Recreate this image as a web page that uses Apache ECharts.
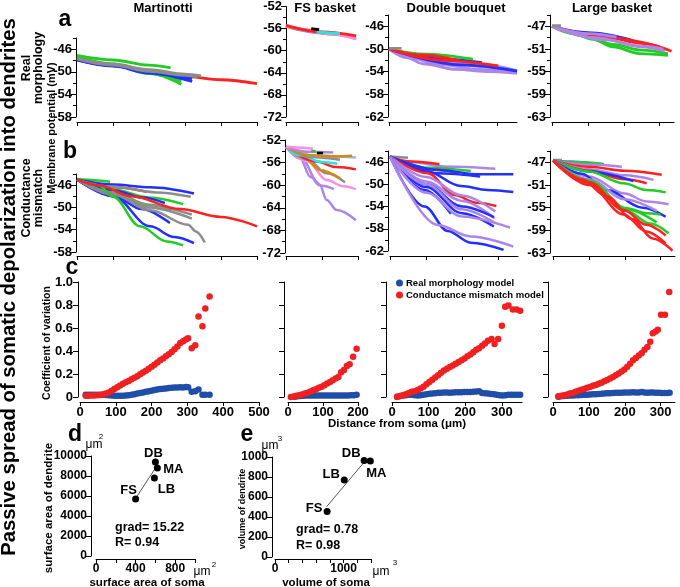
<!DOCTYPE html>
<html><head><meta charset="utf-8">
<script src="https://cdn.jsdelivr.net/npm/echarts@6/dist/echarts.min.js"></script>
<style>html,body{margin:0;padding:0;background:#fff}#chart{width:680px;height:587px}</style>
</head><body><div id="chart"></div>
<script>
// ---------------- DATA ----------------
const panelTitles = ['Martinotti', 'FS basket', 'Double bouquet', 'Large basket'];

// x ticks (distance from soma, um)
const xTicksM = [0, 100, 200, 300, 400, 500];
const xTicksFS = [0, 100, 200];
const xTicksDB = [0, 100, 200, 300];
const xTicksLB = [0, 100, 200, 300];

// y tick labels (membrane potential, mV) rows a and b
const yLabelsM = [-58, -54, -50, -46];
const yMinorM = [-56, -52, -48, -44];
const yLabelsFS = [-72, -68, -64, -60, -56, -52];
const yMinorFS = [-70, -66, -62, -58, -54];
const yLabelsDB = [-62, -58, -54, -50, -46];
const yMinorDB = [-60, -56, -52, -48, -44];
const yLabelsLB = [-63, -59, -55, -51, -47];
const yMinorLB = [-61, -57, -53, -49, -45];
const yLabelsCV = [0, 0.2, 0.4, 0.6, 0.8, 1.0];

// Row a: real morphology traces [colour name, [[distance, mV], ...]]
const realM = [
  ['green', [[0,-47.1],[100,-47.9],[200,-48.8],[260,-49.3]]],
  ['green', [[0,-47.3],[100,-48.6],[200,-50.2],[290,-52.2]]],
  ['green', [[0,-47.4],[100,-48.8],[200,-50.3],[290,-51.6]]],
  ['red',   [[0,-47.8],[100,-48.9],[200,-50.0],[300,-50.8],[400,-51.4],[500,-52.1]]],
  ['blue',  [[0,-47.9],[100,-49.0],[200,-50.2],[320,-51.7]]],
  ['blue',  [[0,-47.9],[100,-48.9],[200,-50.0],[320,-51.2]]],
  ['gray',  [[0,-47.6],[100,-48.6],[200,-49.6],[300,-50.4],[345,-50.7]]],
  ['gray',  [[0,-47.7],[100,-48.8],[200,-49.9],[300,-50.6],[335,-50.9]]]
];
const realFS = [
  ['orange', [[0,-55.6],[60,-56.4],[120,-57.0],[185,-57.4]]],
  ['purple', [[0,-55.5],[100,-56.8],[195,-57.8]]],
  ['pink',   [[0,-55.4],[60,-56.2],[120,-56.9],[195,-57.9]]],
  ['red',    [[0,-55.4],[100,-56.6],[195,-57.3]]],
  ['cyan',   [[85,-56.6],[150,-56.9]]],
  ['black',  [[70,-56.0],[92,-56.2]]]
];
const realDB = [
  ['purple', [[0,-50.0],[50,-51.5],[94,-52.6],[187,-53.6],[280,-54.0],[355,-54.3]]],
  ['purple', [[0,-50.0],[60,-51.6],[140,-52.7],[250,-53.6],[355,-54.1]]],
  ['purple', [[0,-50.0],[70,-51.2],[160,-52.3],[260,-53.1],[330,-53.5]]],
  ['purple', [[0,-50.0],[140,-51.6],[250,-52.7],[355,-53.8]]],
  ['blue',   [[0,-50.0],[150,-51.8],[258,-52.4]]],
  ['blue',   [[0,-50.0],[200,-52.8],[355,-53.9]]],
  ['red',    [[0,-50.0],[150,-52.0],[303,-53.0]]],
  ['green',  [[0,-50.0],[100,-50.9],[233,-51.8]]],
  ['red',    [[0,-50.0],[100,-51.1],[194,-52.1]]],
  ['gray',   [[0,-49.9],[35,-49.9]]]
];
const realLB = [
  ['green',  [[0,-47.0],[60,-48.3],[114,-49.3],[170,-50.6],[244,-51.8],[323,-52.1]]],
  ['green',  [[0,-47.0],[100,-48.8],[170,-50.2],[250,-51.2],[323,-51.8]]],
  ['blue',   [[0,-47.0],[100,-48.1],[226,-49.5]]],
  ['red',    [[0,-47.0],[150,-48.9],[250,-50.0],[333,-51.4]]],
  ['red',    [[0,-47.0],[150,-49.0],[300,-50.6]]],
  ['purple', [[0,-47.0],[100,-48.3],[180,-48.9]]],
  ['purple', [[0,-47.0],[150,-49.4],[250,-50.6],[314,-51.4]]],
  ['purple', [[0,-47.0],[120,-49.0],[250,-50.5],[310,-51.0]]],
  ['gray',   [[0,-46.9],[25,-46.9]]]
];

// Row b: conductance mismatch traces
const condM = [
  ['green', [[0,-44.9],[50,-45.1],[92,-45.4]]],
  ['red',   [[0,-45.0],[100,-46.4],[194,-47.2]]],
  ['blue',  [[0,-45.0],[100,-45.9],[203,-46.4],[325,-47.5]]],
  ['gray',  [[0,-45.0],[100,-46.3],[220,-47.3],[316,-48.1]]],
  ['green', [[0,-45.0],[100,-46.8],[200,-48.2],[295,-49.4]]],
  ['blue',  [[0,-45.0],[100,-46.9],[180,-48.2],[244,-49.2]]],
  ['green', [[0,-45.0],[100,-47.3],[200,-49.5],[264,-50.5]]],
  ['gray',  [[0,-45.0],[100,-47.4],[200,-49.6],[319,-51.3]]],
  ['gray',  [[0,-45.0],[100,-47.6],[200,-50.0],[319,-52.0]]],
  ['blue',  [[0,-45.0],[100,-47.8],[180,-50.3],[258,-52.8]]],
  ['blue',  [[0,-45.0],[100,-48.0],[203,-53.4],[270,-55.3],[325,-56.4]]],
  ['gray',  [[0,-45.0],[100,-47.7],[203,-50.5],[309,-53.1],[330,-54.3],[355,-56.3]]],
  ['green', [[0,-45.0],[60,-46.0],[100,-48.1],[175,-53.4],[249,-56.1],[295,-56.8]]],
  ['red',   [[0,-45.0],[60,-46.0],[150,-48.0],[286,-50.3],[400,-51.7],[500,-53.4]]]
];
const condFS = [
  ['purple', [[0,-53.2],[40,-55.0],[94,-60.0],[113,-62.6],[141,-64.4],[194,-66.2]]],
  ['purple', [[0,-53.2],[40,-55.3],[67,-58.5],[100,-60.1],[133,-60.7]]],
  ['pink',   [[0,-53.2],[60,-55.8],[113,-59.1],[160,-60.2],[194,-60.7]]],
  ['gray',   [[0,-53.2],[60,-55.5],[113,-57.9],[164,-59.5]]],
  ['orange', [[0,-53.2],[50,-55.0],[94,-57.3],[150,-58.8]]],
  ['red',    [[0,-53.2],[85,-55.8],[140,-56.8],[194,-57.2]]],
  ['cyan',   [[0,-53.2],[39,-54.7],[100,-55.9],[142,-56.2]]],
  ['gray',   [[0,-53.2],[70,-55.0],[150,-55.5]]],
  ['steel',  [[0,-53.2],[80,-54.8],[194,-55.1]]],
  ['orange', [[0,-53.2],[67,-54.7],[140,-54.9],[184,-54.8]]],
  ['purple', [[0,-53.2],[60,-54.1],[131,-54.2]]],
  ['pink',   [[0,-53.2],[75,-53.5]]],
  ['green',  [[70,-53.9],[82,-54.0]]],
  ['black',  [[86,-54.3],[103,-54.3]]]
];
const condDB = [
  ['gray',   [[0,-45.0],[50,-45.2]]],
  ['purple', [[0,-45.0],[60,-46.0],[150,-46.8],[292,-47.2]]],
  ['red',    [[0,-45.0],[60,-45.9],[137,-46.4]]],
  ['green',  [[0,-45.0],[105,-47.0],[224,-47.6]]],
  ['red',    [[0,-45.0],[105,-47.3],[187,-47.9]]],
  ['blue',   [[0,-45.0],[132,-47.4],[250,-48.2],[342,-48.2]]],
  ['blue',   [[0,-45.0],[130,-48.0],[250,-48.6]]],
  ['blue',   [[0,-45.0],[100,-47.6],[197,-50.3],[270,-51.0],[342,-51.4]]],
  ['red',    [[0,-45.0],[105,-48.0],[178,-51.9],[240,-53.3],[295,-53.9]]],
  ['purple', [[0,-45.0],[100,-48.7],[200,-52.0],[292,-54.9]]],
  ['purple', [[0,-45.0],[100,-49.5],[200,-53.0],[290,-56.1]]],
  ['blue',   [[0,-45.0],[96,-51.0],[169,-55.3]]],
  ['blue',   [[0,-45.0],[100,-50.0],[200,-54.0],[288,-55.9]]],
  ['blue',   [[0,-45.0],[100,-50.5],[200,-55.2],[288,-57.6]]],
  ['purple', [[0,-45.0],[100,-50.0],[200,-54.5],[290,-56.9]]],
  ['purple', [[0,-45.0],[100,-51.5],[200,-55.8],[333,-57.8]]],
  ['blue',   [[0,-45.0],[96,-54.0],[160,-58.4],[224,-60.5],[315,-61.8]]],
  ['purple', [[0,-45.0],[132,-57.3],[224,-59.4],[342,-61.2]]]
];
const condLB = [
  ['gray',   [[0,-46.6],[25,-46.6]]],
  ['blue',   [[0,-46.7],[50,-46.9],[100,-47.1]]],
  ['green',  [[0,-46.7],[80,-47.0],[142,-47.3]]],
  ['purple', [[0,-46.7],[100,-47.4],[192,-47.8]]],
  ['red',    [[0,-46.7],[100,-47.8],[200,-48.5],[303,-49.2]]],
  ['purple', [[0,-46.7],[100,-48.2],[200,-49.3],[280,-50.1]]],
  ['red',    [[0,-46.7],[100,-48.5],[200,-50.0],[261,-50.7]]],
  ['blue',   [[0,-46.7],[100,-48.6],[224,-50.3]]],
  ['green',  [[0,-46.7],[100,-48.6],[197,-50.7],[260,-51.9],[314,-52.3]]],
  ['purple', [[0,-46.7],[100,-49.5],[200,-52.5],[260,-53.9],[322,-54.4]]],
  ['blue',   [[0,-46.7],[80,-49.0],[150,-51.9],[250,-55.0],[314,-56.6]]],
  ['purple', [[0,-46.7],[100,-50.0],[200,-53.5],[290,-55.6]]],
  ['green',  [[0,-46.7],[100,-50.2],[206,-55.1],[260,-56.0],[300,-56.2]]],
  ['green',  [[0,-46.7],[100,-50.5],[206,-55.3],[289,-57.6]]],
  ['green',  [[0,-46.7],[100,-50.8],[206,-55.6],[270,-57.8],[322,-59.5]]],
  ['red',    [[0,-46.7],[100,-50.5],[197,-55.4],[260,-58.0],[314,-59.9]]],
  ['red',    [[0,-46.7],[100,-51.0],[197,-56.2],[260,-59.2],[314,-61.3]]],
  ['red',    [[0,-46.7],[80,-50.0],[150,-53.0],[220,-57.0],[280,-60.5],[333,-62.6]]]
];

// Row c: coefficient of variation [distance, CV]
const cvRealM = [[16,0.02],[24,0.02],[32,0.02],[40,0.02],[48,0.02],[56,0.02],[64,0.02],[72,0.018],[80,0.015],[88,0.012],[96,0.01],[104,0.01],[112,0.01],[120,0.01],[128,0.012],[136,0.015],[144,0.02],[152,0.025],[160,0.03],[168,0.035],[176,0.04],[184,0.045],[192,0.05],[200,0.055],[208,0.06],[216,0.065],[224,0.07],[232,0.072],[240,0.075],[248,0.078],[256,0.08],[264,0.082],[272,0.083],[280,0.085],[288,0.082],[296,0.088],[302,0.085],[312,0.045],[322,0.05],[331,0.065],[342,0.02],[350,0.02],[362,0.02]];
const cvMisM = [[16,0.01],[24,0.01],[32,0.012],[40,0.013],[48,0.015],[56,0.017],[64,0.022],[72,0.03],[80,0.04],[88,0.055],[96,0.07],[104,0.085],[112,0.1],[120,0.115],[128,0.128],[136,0.14],[144,0.155],[152,0.168],[160,0.18],[168,0.198],[176,0.213],[184,0.228],[192,0.245],[200,0.262],[208,0.28],[216,0.3],[224,0.32],[232,0.335],[240,0.355],[248,0.372],[256,0.392],[264,0.415],[272,0.44],[280,0.47],[288,0.485],[296,0.5],[302,0.51],[312,0.425],[322,0.45],[331,0.7],[342,0.615],[350,0.77],[362,0.875]];
const cvRealFS = [[20,0.003],[28,0.006],[36,0.008],[44,0.01],[52,0.012],[60,0.012],[68,0.013],[76,0.013],[84,0.013],[92,0.014],[100,0.014],[108,0.014],[116,0.014],[124,0.014],[132,0.014],[140,0.014],[148,0.014],[156,0.014],[164,0.014],[172,0.014],[180,0.015],[188,0.016],[196,0.02]];
const cvMisFS = [[8,0.0],[16,0.004],[24,0.01],[32,0.015],[40,0.022],[48,0.03],[56,0.038],[64,0.047],[72,0.058],[80,0.068],[88,0.08],[96,0.09],[104,0.103],[112,0.117],[120,0.13],[128,0.145],[136,0.16],[144,0.175],[152,0.215],[160,0.235],[168,0.27],[176,0.285],[186,0.35],[196,0.42]];
const cvRealDB = [[14,0.003],[22,0.008],[30,0.012],[38,0.016],[46,0.02],[54,0.02],[62,0.015],[70,0.012],[78,0.015],[86,0.02],[94,0.025],[102,0.028],[110,0.03],[118,0.033],[126,0.036],[134,0.038],[142,0.04],[150,0.04],[158,0.038],[166,0.04],[174,0.042],[182,0.042],[190,0.042],[198,0.043],[206,0.043],[214,0.043],[222,0.045],[230,0.048],[238,0.05],[246,0.035],[254,0.032],[262,0.03],[270,0.027],[278,0.024],[286,0.02],[294,0.015],[302,0.012],[310,0.015],[318,0.02],[326,0.02],[334,0.02],[342,0.02],[350,0.02]];
const cvMisDB = [[14,0.0],[22,0.008],[30,0.015],[38,0.025],[46,0.035],[54,0.045],[62,0.05],[70,0.06],[78,0.075],[86,0.09],[94,0.11],[102,0.13],[110,0.15],[118,0.17],[126,0.19],[134,0.21],[142,0.23],[150,0.245],[158,0.26],[166,0.275],[174,0.29],[182,0.305],[190,0.32],[198,0.335],[206,0.355],[214,0.37],[222,0.39],[230,0.41],[238,0.425],[246,0.445],[254,0.465],[262,0.49],[272,0.505],[280,0.46],[290,0.505],[300,0.62],[309,0.785],[318,0.795],[330,0.76],[340,0.76],[350,0.75]];
const cvRealLB = [[15,0.003],[23,0.006],[31,0.008],[39,0.01],[47,0.012],[55,0.014],[63,0.015],[71,0.016],[79,0.018],[87,0.02],[95,0.02],[103,0.022],[111,0.024],[119,0.025],[127,0.026],[135,0.028],[143,0.03],[151,0.032],[159,0.033],[167,0.035],[175,0.036],[183,0.038],[191,0.038],[199,0.04],[207,0.04],[215,0.04],[223,0.042],[231,0.04],[239,0.04],[247,0.043],[255,0.04],[263,0.038],[271,0.04],[279,0.04],[287,0.036],[295,0.037],[303,0.035],[311,0.034],[319,0.035],[325,0.038]];
const cvMisLB = [[15,0.006],[23,0.01],[31,0.015],[39,0.022],[47,0.03],[55,0.035],[63,0.045],[71,0.055],[79,0.062],[87,0.07],[95,0.08],[103,0.088],[111,0.097],[119,0.105],[127,0.115],[135,0.125],[143,0.137],[151,0.148],[159,0.16],[167,0.175],[175,0.19],[183,0.205],[191,0.222],[199,0.24],[207,0.262],[215,0.29],[223,0.32],[231,0.34],[239,0.36],[247,0.38],[255,0.41],[263,0.435],[271,0.48],[278,0.555],[286,0.57],[292,0.585],[301,0.715],[312,0.715],[324,0.912]];

// Panels d and e
const cellTypes = ['FS', 'DB', 'MA', 'LB'];
const somaArea = [400, 600, 620, 590];
const dendriteArea = [5700, 9400, 8800, 7800];
const fitArea = [[400, 5750], [615, 9020]];
const somaVolume = [760, 1300, 1390, 1010];
const dendriteVolume = [455, 965, 960, 770];
const fitVolume = [[755, 505], [1345, 985]];
const xTicksD = [0, 200, 400, 600, 800, 1000];
const xLabelsD = [0, 400, 800];
const yTicksD = [0, 2000, 4000, 6000, 8000, 10000];
const xTicksE = [0, 200, 400, 600, 800, 1000, 1200, 1400];
const xLabelsE = [0, 1000];
const yTicksE = [0, 200, 400, 600, 800, 1000];

// ---------------- STYLE / LAYOUT ----------------
const FONT = '"Liberation Sans", Arial, Helvetica, sans-serif';
const COLORS = {red:'#ff2020', blue:'#2030ff', green:'#22cc22', gray:'#8c8c8c', purple:'#ad85e8',
  cyan:'#22e6ea', orange:'#d48a10', pink:'#ff8ce6', black:'#000000', steel:'#93b4e6'};
const BLUE_DOT = '#1f4ea8', RED_DOT = '#f02020';

const layoutA = [
  {left:77, top:38, width:180, height:79, xOff:5, yOff:1},
  {left:286, top:6, width:72, height:111, xOff:5, yOff:0},
  {left:389, top:15, width:128, height:102, xOff:5, yOff:1},
  {left:552, top:15, width:122, height:102, xOff:5, yOff:2}
];
const layoutB = [
  {left:77, top:174, width:180, height:78, xOff:4, yOff:1},
  {left:286, top:140, width:72, height:113, xOff:3, yOff:1},
  {left:390, top:151, width:128, height:100, xOff:5, yOff:2},
  {left:553, top:151, width:122, height:102, xOff:3, yOff:3}
];
const layoutC = [
  {left:80, top:282, width:179, height:115, xOff:5, yOff:2},
  {left:288, top:282, width:70, height:115, xOff:5, yOff:4},
  {left:392, top:282, width:130, height:115, xOff:5, yOff:6},
  {left:553, top:282, width:122, height:115, xOff:5, yOff:5}
];
const xSpec = [
  {max:500, ticks:xTicksM}, {max:200, ticks:xTicksFS}, {max:355, ticks:xTicksDB}, {max:340, ticks:xTicksLB}
];
const ySpec = [
  {min:-58, max:-44, labels:yLabelsM, minor:yMinorM},
  {min:-72, max:-52, labels:yLabelsFS, minor:yMinorFS},
  {min:-62, max:-44, labels:yLabelsDB, minor:yMinorDB},
  {min:-63, max:-45, labels:yLabelsLB, minor:yMinorLB}
];

const grid = [], xAxis = [], yAxis = [], series = [];
const plainNum = v => String(v);

function axisBase(fs) {
  return {
    type:'value',
    axisLine:{show:true, onZero:false, lineStyle:{color:'#000', width:1}},
    axisTick:{show:true, length:4, lineStyle:{color:'#000', width:1}},
    minorTick:{show:false},
    splitLine:{show:false},
    axisLabel:{show:true, color:'#000', fontFamily:FONT, fontWeight:'bold', fontSize:fs || 13, margin:4, formatter:plainNum}
  };
}

function addGrid(L, xs, ys) {
  const gi = grid.length;
  grid.push({left:L.left, top:L.top, width:L.width, height:L.height});
  const xa = axisBase(xs.fs);
  Object.assign(xa, {gridIndex:gi, min:xs.min || 0, max:xs.max, position:'bottom', offset:L.xOff || 0});
  xa.axisTick.customValues = xs.ticks;
  if (xs.labels) { xa.axisLabel.customValues = xs.labels; xa.axisLabel.margin = xs.margin || 4; }
  else xa.axisLabel.show = false;
  const xi = xAxis.length; xAxis.push(xa);

  const ya = axisBase(ys.fs);
  Object.assign(ya, {gridIndex:gi, min:ys.min, max:ys.max, position:'left', offset:L.yOff || 0});
  ya.axisTick.customValues = ys.ticks || ys.labels;
  ya.axisTick.length = ys.tickLen || 5;
  if (ys.showLabels !== false) {
    ya.axisLabel.customValues = ys.labels;
    ya.axisLabel.margin = ys.margin || 4;
    if (ys.formatter) ya.axisLabel.formatter = ys.formatter;
  } else ya.axisLabel.show = false;
  const yi = yAxis.length; yAxis.push(ya);

  if (ys.minor) {
    const ym = axisBase();
    Object.assign(ym, {gridIndex:gi, min:ys.min, max:ys.max, position:'left', offset:L.yOff || 0});
    ym.axisLine.show = false; ym.axisLabel.show = false;
    ym.axisTick.customValues = ys.minor; ym.axisTick.length = 3;
    yAxis.push(ym);
  }
  return {xi, yi};
}

function addTraces(ax, traces, w) {
  traces.forEach(([c, pts]) => {
    series.push({type:'line', xAxisIndex:ax.xi, yAxisIndex:ax.yi, data:pts, symbol:'none',
      smooth:0.35, smoothMonotone:'x', lineStyle:{color:COLORS[c], width:w}, silent:true, z:2});
  });
}

const realPanels = [realM, realFS, realDB, realLB];
const condPanels = [condM, condFS, condDB, condLB];
const cvReal = [cvRealM, cvRealFS, cvRealDB, cvRealLB];
const cvMis = [cvMisM, cvMisFS, cvMisDB, cvMisLB];

for (let i = 0; i < 4; i++) {
  const axA = addGrid(layoutA[i], xSpec[i], ySpec[i]);
  addTraces(axA, realPanels[i], 2.8);
  const axB = addGrid(layoutB[i], xSpec[i], ySpec[i]);
  addTraces(axB, condPanels[i], 2.5);
  const axC = addGrid(layoutC[i], {max:xSpec[i].max, ticks:xSpec[i].ticks, labels:xSpec[i].ticks, margin:4},
    {min:0, max:1, labels:yLabelsCV, showLabels:i === 0, margin:5,
     formatter:v => (v === 0 ? '0' : v.toFixed(1))});
  series.push({type:'scatter', name:'Real morphology model', xAxisIndex:axC.xi, yAxisIndex:axC.yi,
    data:cvReal[i], symbolSize:6.5, itemStyle:{color:BLUE_DOT, opacity:1}, silent:true, z:3});
  series.push({type:'scatter', name:'Conductance mismatch model', xAxisIndex:axC.xi, yAxisIndex:axC.yi,
    data:cvMis[i], symbolSize:6.5, itemStyle:{color:RED_DOT, opacity:1}, silent:true, z:4});
}

// panels d and e
const labelOffD = {FS:[-7,-9], DB:[-2,-9], MA:[16,1], LB:[12,11]};
const labelOffE = {FS:[-13,-3], DB:[-13,-7], MA:[6,12], LB:[-13,-6]};
const axD = addGrid({left:96, top:456, width:99, height:100, xOff:3, yOff:5},
  {max:1000, ticks:xTicksD, labels:xLabelsD, fs:12, margin:4},
  {min:0, max:10000, labels:yTicksD, fs:12, margin:4});
const axE = addGrid({left:275, top:457, width:96, height:100, xOff:2, yOff:3},
  {max:1400, ticks:xTicksE, labels:xLabelsE, fs:12, margin:4},
  {min:0, max:1000, labels:yTicksE, fs:12, margin:4});

function scatterPts(xs, ys, offs) {
  return cellTypes.map((n, k) => ({name:n, value:[xs[k], ys[k]],
    label:{show:true, position:'inside', offset:offs[n], formatter:'{b}', color:'#000',
      fontFamily:FONT, fontWeight:'bold', fontSize:13}}));
}
series.push({type:'line', xAxisIndex:axD.xi, yAxisIndex:axD.yi, data:fitArea, symbol:'none',
  lineStyle:{color:'#555', width:1}, silent:true, z:2});
series.push({type:'scatter', xAxisIndex:axD.xi, yAxisIndex:axD.yi, data:scatterPts(somaArea, dendriteArea, labelOffD),
  symbolSize:7, itemStyle:{color:'#000', opacity:1}, silent:true, z:3});
series.push({type:'line', xAxisIndex:axE.xi, yAxisIndex:axE.yi, data:fitVolume, symbol:'none',
  lineStyle:{color:'#555', width:1}, silent:true, z:2});
series.push({type:'scatter', xAxisIndex:axE.xi, yAxisIndex:axE.yi, data:scatterPts(somaVolume, dendriteVolume, labelOffE),
  symbolSize:7, itemStyle:{color:'#000', opacity:1}, silent:true, z:3});

// ---------------- TEXT ----------------
function T(text, x, y, size, o) {
  o = o || {};
  const al = o.align || 'center', va = o.va || 'middle';
  return {type:'text', x:x, y:y, rotation:o.rot || 0, silent:true, z:10,
    style:{text:text, fill:'#000', font:(o.weight || 'bold') + ' ' + size + 'px ' + FONT,
      align:al, verticalAlign:va, textAlign:al, textVerticalAlign:va, lineHeight:o.lh}};
}
const R = Math.PI / 2;
const titleX = [163, 325, 456, 612];
const graphics = [
  ...panelTitles.map((t, i) => T(t, titleX[i], 8, 13)),
  T('a', 65, 20, 23), T('b', 70, 152, 23), T('c', 72, 268, 23), T('d', 75, 435, 23), T('e', 247, 435, 23),
  T('Passive spread of somatic depolarization into dendrites', 9, 287, 20.3, {rot:R}),
  T('Real\nmorphology', 33, 68, 12.5, {rot:R, lh:12}),
  T('Conductance\nmismatch', 33, 198, 12.5, {rot:R, lh:12}),
  T('Membrane potential (mV)', 52, 128, 11, {rot:R}),
  T('Coefficient of variation', 47, 343, 10.5, {rot:R}),
  T('Distance from soma (\u03bcm)', 397, 424, 11.5),
  // d
  T('\u03bcm', 94, 445, 12, {weight:'normal'}), T('2', 101, 437, 8, {weight:'normal'}),
  T('\u03bcm', 202, 572, 12, {weight:'normal'}), T('2', 214, 565, 8, {weight:'normal'}),
  T('surface area of soma', 147, 583, 11.5),
  T('surface area of dendrite', 49, 508, 11.5, {rot:R}),
  T('grad= 15.22', 115, 528, 12.5, {align:'left'}),
  T('R= 0.94', 115, 543, 12.5, {align:'left'}),
  // e
  T('\u03bcm', 270, 446, 12, {weight:'normal'}), T('3', 280, 439, 8, {weight:'normal'}),
  T('\u03bcm', 381, 572, 12, {weight:'normal'}), T('3', 395, 563, 8, {weight:'normal'}),
  T('volume of soma', 326, 583, 11.5),
  T('volume of dendrite', 243, 509, 9, {rot:R}),
  T('grad= 0.78', 296, 530, 12.5, {align:'left'}),
  T('R= 0.98', 296, 546, 12.5, {align:'left'})
];

const option = {
  animation:false,
  backgroundColor:'#fff',
  textStyle:{fontFamily:FONT},
  grid, xAxis, yAxis, series,
  legend:{show:true, orient:'vertical', left:396, top:278, itemWidth:7, itemHeight:7, itemGap:2,
    icon:'circle', selectedMode:false, padding:0,
    textStyle:{color:'#000', fontFamily:FONT, fontWeight:'bold', fontSize:9.5, padding:[0,0,0,-2]},
    data:[{name:'Real morphology model', itemStyle:{color:BLUE_DOT}}, {name:'Conductance mismatch model', itemStyle:{color:RED_DOT}}]},
  graphic:graphics
};
const chart = echarts.init(document.getElementById('chart'), null, {renderer:'canvas'});
chart.setOption(option);
</script></body></html>
